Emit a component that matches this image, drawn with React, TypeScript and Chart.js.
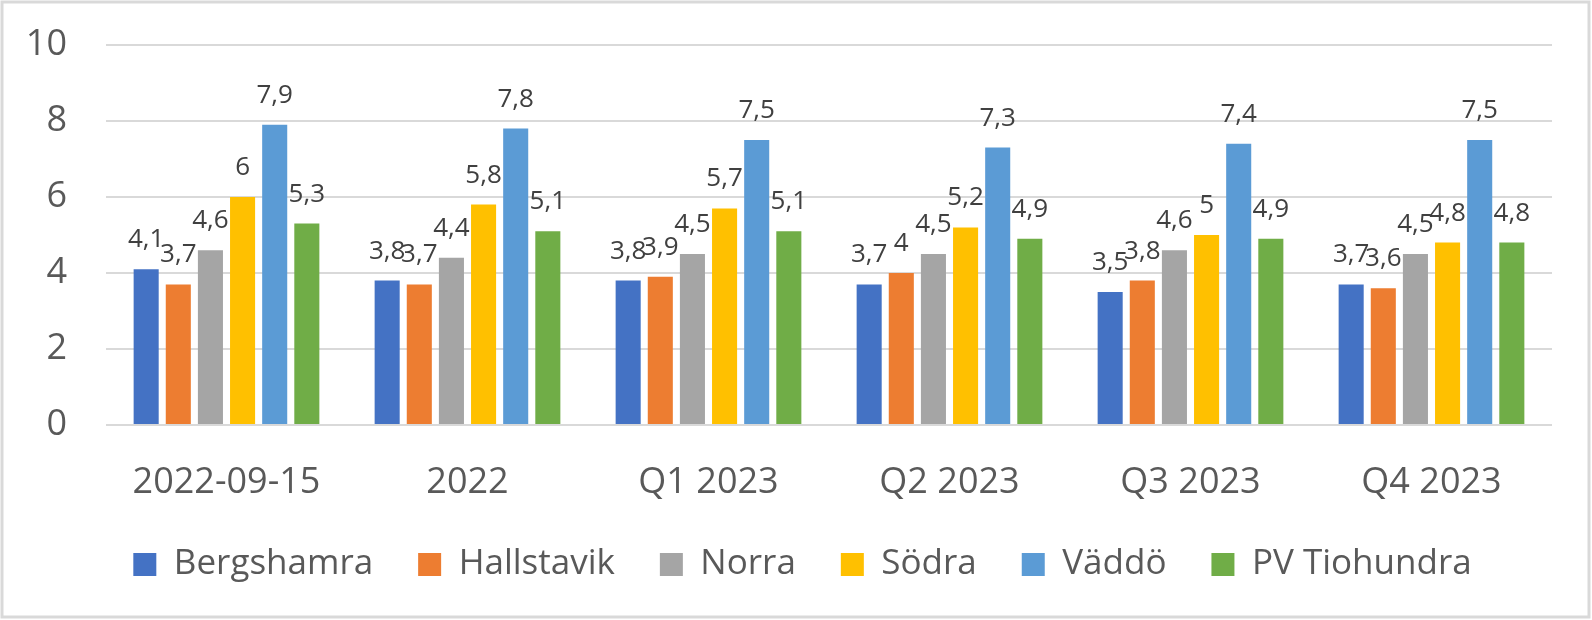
import React, { useEffect, useRef } from "react";
import { Chart, registerables } from "chart.js";

Chart.register(...registerables);

const categories = ["2022-09-15", "2022", "Q1 2023", "Q2 2023", "Q3 2023", "Q4 2023"];
const seriesNames = ["Bergshamra", "Hallstavik", "Norra", "Södra", "Väddö", "PV Tiohundra"];
const bergshamra = [4.1, 3.8, 3.8, 3.7, 3.5, 3.7];
const hallstavik = [3.7, 3.7, 3.9, 4.0, 3.8, 3.6];
const norra = [4.6, 4.4, 4.5, 4.5, 4.6, 4.5];
const sodra = [6.0, 5.8, 5.7, 5.2, 5.0, 4.8];
const vaddo = [7.9, 7.8, 7.5, 7.3, 7.4, 7.5];
const pvTiohundra = [5.3, 5.1, 5.1, 4.9, 4.9, 4.8];
const seriesColors = ["#4472C4", "#ED7D31", "#A5A5A5", "#FFC000", "#5B9BD5", "#70AD47"];
const yTicks = [0, 2, 4, 6, 8, 10];

const FONT = "'Open Sans', 'Noto Sans', sans-serif";

const fmt = (v: number) => String(v).replace(".", ",");

const labelPlugin = {
  id: "barLabels",
  afterDatasetsDraw(chart: any) {
    const ctx = chart.ctx;
    ctx.save();
    ctx.font = `26px ${FONT}`;
    ctx.fillStyle = "#404040";
    ctx.textAlign = "center";
    ctx.textBaseline = "alphabetic";
    chart.data.datasets.forEach((ds: any, i: number) => {
      const meta = chart.getDatasetMeta(i);
      meta.data.forEach((el: any, j: number) => {
        ctx.fillText(fmt(ds.data[j]), el.x, el.y - 22);
      });
    });
    ctx.restore();
  },
};

const framePlugin = {
  id: "frame",
  beforeDraw(chart: any) {
    const ctx = chart.ctx;
    ctx.save();
    ctx.fillStyle = "#ffffff";
    ctx.fillRect(0, 0, chart.width, chart.height);
    ctx.restore();
  },
  afterLayout(chart: any) {
    if (chart.legend) chart.legend.left += 33;
  },
  afterDraw(chart: any) {
    const ctx = chart.ctx;
    ctx.save();
    ctx.strokeStyle = "#d9d9d9";
    ctx.lineWidth = 3;
    ctx.strokeRect(2, 2, chart.width - 5, chart.height - 5);
    ctx.restore();
  },
};

export default function App() {
  const ref = useRef<HTMLCanvasElement | null>(null);

  useEffect(() => {
    document.body.style.margin = "0";
    if (!ref.current) return;
    const allSeries = [bergshamra, hallstavik, norra, sodra, vaddo, pvTiohundra];
    const chart = new Chart(ref.current, {
      type: "bar",
      data: {
        labels: categories,
        datasets: allSeries.map((d, i) => ({
          label: seriesNames[i],
          data: d,
          backgroundColor: seriesColors[i],
          borderWidth: 0,
          categoryPercentage: 0.8,
          barPercentage: 0.78,
        })),
      },
      options: {
        responsive: false,
        animation: false,
        devicePixelRatio: 1,
        layout: { padding: { left: 20, right: 40, top: 45, bottom: 28 } },
        plugins: {
          tooltip: { enabled: false },
          legend: {
            position: "bottom",
            labels: {
              boxWidth: 23,
              boxHeight: 23,
              padding: 45,
              color: "#595959",
              font: { family: FONT, size: 35 },
            },
          },
        },
        scales: {
          x: {
            grid: { display: false, drawTicks: false },
            border: { display: false },
            afterFit(scale: any) {
              scale.height = 77;
            },
            ticks: {
              padding: 36,
              color: "#595959",
              font: { family: FONT, size: 36 },
              maxRotation: 0,
            },
          },
          y: {
            min: 0,
            max: 10,
            afterBuildTicks(scale: any) {
              scale.ticks = yTicks.map((v) => ({ value: v }));
            },
            afterFit(scale: any) {
              scale.width = 86;
              scale.paddingTop = 20;
              scale.paddingBottom = 20;
            },
            grid: { color: "#d9d9d9", lineWidth: 2, drawTicks: false },
            border: { display: false },
            ticks: {
              padding: 39,
              color: "#595959",
              font: { family: FONT, size: 36 },
            },
          },
        },
      },
      plugins: [labelPlugin, framePlugin],
    });
    return () => chart.destroy();
  }, []);

  return (
    <div style={{ width: 1592, height: 620 }}>
      <canvas ref={ref} width={1592} height={620} />
    </div>
  );
}
